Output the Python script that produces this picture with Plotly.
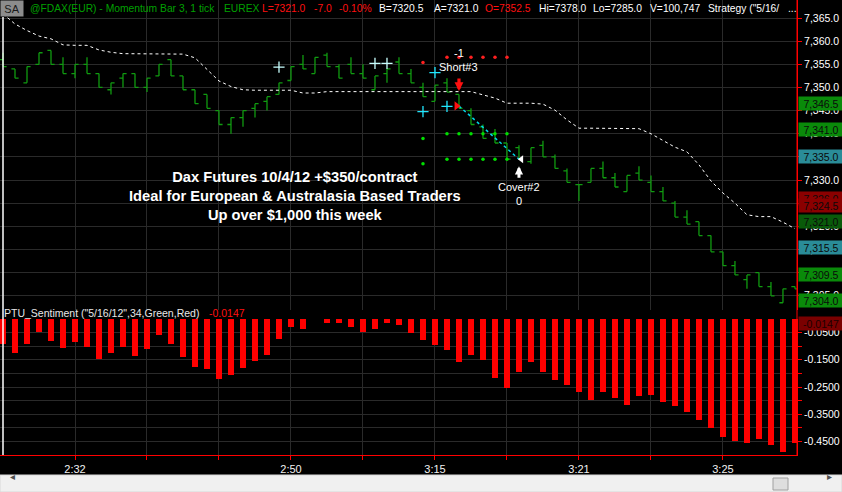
import plotly.graph_objects as go

# ---------------- data ----------------
bar_index = list(range(67))

opens = [7356.0, 7354.0, 7351.0, 7355.0, 7358.0, 7355.0, 7353.0, 7355.0, 7353.0, 7349.5,
         7352.0, 7353.0, 7350.0, 7352.5, 7356.0, 7352.5, 7349.5, 7348.5, 7345.0, 7342.0,
         7343.5, 7345.5, 7347.0, 7348.5, 7351.5, 7355.0, 7353.0, 7357.0, 7354.5, 7355.0,
         7353.0, 7349.5, 7353.0, 7355.5, 7353.0, 7350.0, 7347.0, 7351.0, 7348.5, 7345.0,
         7341.5, 7340.0, 7338.0, 7337.0, 7334.0, 7337.5, 7335.0, 7332.0, 7329.0, 7329.5,
         7332.5, 7330.5, 7327.5, 7331.5, 7329.5, 7327.5, 7325.0, 7322.0, 7321.0, 7318.0,
         7314.5, 7311.5, 7308.5, 7310.0, 7307.0, 7303.5, 7307.0]
highs = [7357.5, 7354.0, 7354.5, 7357.5, 7358.0, 7356.5, 7355.0, 7356.5, 7353.0, 7351.0,
         7353.0, 7353.0, 7352.0, 7355.0, 7356.0, 7352.5, 7349.5, 7348.5, 7345.0, 7343.5,
         7345.0, 7346.5, 7348.0, 7351.0, 7354.5, 7357.0, 7356.5, 7357.5, 7355.0, 7356.5,
         7355.0, 7352.5, 7354.0, 7356.5, 7354.0, 7351.0, 7350.5, 7352.0, 7348.5, 7345.5,
         7342.0, 7341.0, 7338.0, 7337.5, 7337.0, 7338.5, 7335.5, 7332.5, 7329.0, 7332.5,
         7334.0, 7331.5, 7331.0, 7333.0, 7331.0, 7328.5, 7325.5, 7323.5, 7321.0, 7318.0,
         7314.5, 7312.5, 7309.5, 7310.0, 7308.0, 7306.5, 7307.0]
lows = [7354.5, 7352.0, 7351.0, 7355.0, 7355.0, 7353.0, 7352.0, 7353.0, 7350.0, 7348.5,
        7350.0, 7350.0, 7349.0, 7352.5, 7352.5, 7349.5, 7346.5, 7345.5, 7342.0, 7340.0,
        7341.5, 7343.5, 7345.0, 7348.5, 7351.5, 7354.0, 7353.0, 7354.5, 7352.0, 7353.0,
        7352.0, 7349.5, 7351.0, 7353.0, 7351.0, 7348.0, 7347.0, 7349.0, 7345.5, 7342.0,
        7339.0, 7338.0, 7334.5, 7334.5, 7333.5, 7335.0, 7332.5, 7329.5, 7325.5, 7329.5,
        7330.5, 7328.5, 7327.5, 7330.0, 7327.5, 7325.5, 7322.0, 7320.5, 7318.0, 7314.5,
        7311.5, 7309.5, 7306.5, 7307.0, 7305.0, 7303.5, 7306.5]
closes = [7354.5, 7352.0, 7354.5, 7357.5, 7355.0, 7353.0, 7355.0, 7353.0, 7350.0, 7351.0,
          7353.0, 7350.0, 7352.0, 7355.0, 7352.5, 7349.5, 7346.5, 7345.5, 7342.0, 7343.5,
          7345.0, 7346.5, 7348.0, 7351.0, 7354.5, 7354.0, 7356.5, 7354.5, 7352.0, 7353.0,
          7352.0, 7352.5, 7354.0, 7353.0, 7351.0, 7348.0, 7350.5, 7349.0, 7345.5, 7342.0,
          7339.0, 7338.0, 7334.5, 7334.5, 7337.0, 7335.0, 7332.5, 7329.5, 7329.0, 7332.5,
          7330.5, 7328.5, 7331.0, 7330.0, 7327.5, 7325.5, 7322.0, 7320.5, 7318.0, 7314.5,
          7311.5, 7309.5, 7309.5, 7307.0, 7305.0, 7306.5, 7306.5]

stop_line = [7365.9, 7363.7, 7362.3, 7361.1, 7360.5, 7359.2, 7359.1, 7359.1, 7358.1, 7357.6,
             7357.3, 7357.3, 7357.3, 7357.3, 7357.3, 7357.2, 7356.4, 7353.8, 7351.4, 7350.2,
             7349.5, 7349.4, 7349.4, 7349.4, 7349.4, 7348.8, 7348.8, 7349.1, 7349.1, 7349.1,
             7349.1, 7349.1, 7349.1, 7349.1, 7349.1, 7349.1, 7349.1, 7349.1, 7349.1, 7349.1,
             7348.4, 7347.7, 7346.6, 7346.6, 7346.6, 7346.4, 7345.1, 7343.0, 7341.2, 7341.2,
             7341.2, 7341.2, 7341.2, 7341.1, 7340.0, 7338.5, 7337.1, 7336.1, 7333.3, 7329.8,
             7327.2, 7325.0, 7322.5, 7322.1, 7322.1, 7320.9, 7319.5]

sentiment = [-0.093, -0.126, -0.093, -0.047, -0.080, -0.105, -0.083, -0.102, -0.148, -0.126,
             -0.102, -0.135, -0.111, -0.060, -0.093, -0.139, -0.175, -0.183, -0.219, -0.205,
             -0.179, -0.153, -0.131, -0.075, -0.031, -0.036, 0.0, -0.016, -0.014, -0.031,
             -0.047, -0.038, -0.016, -0.021, -0.050, -0.077, -0.096, -0.114, -0.158, -0.132,
             -0.151, -0.217, -0.254, -0.195, -0.158, -0.195, -0.224, -0.243, -0.268, -0.298,
             -0.268, -0.290, -0.316, -0.283, -0.279, -0.305, -0.320, -0.342, -0.371, -0.401,
             -0.434, -0.449, -0.456, -0.441, -0.463, -0.489, -0.456]

time_tick_bars = [6, 12, 18, 24, 30, 36, 42, 48, 54, 60]
time_tick_labels = ["2:32", "", "", "2:50", "", "3:15", "", "3:21", "", "3:25"]

price_ticks = [7305, 7310, 7315, 7320, 7325, 7330, 7335, 7340, 7345, 7350, 7355, 7360, 7365]
sent_ticks = [-0.05, -0.10, -0.15, -0.20, -0.25, -0.30, -0.35, -0.40, -0.45]
sent_tick_labels = ["-0.0500", "", "-0.1500", "", "-0.2500", "", "-0.3500", "", "-0.4500"]

cross_light_bars = [23, 31, 32]
cross_light_prices = [7354.4, 7355.2, 7355.2]
cross_cyan_bars = [36, 35, 37]
cross_cyan_prices = [7353.2, 7344.8, 7345.9]
red_dot_bars = [35, 37, 38, 39, 40, 41, 42]
red_dot_prices = [7355.4, 7356.5, 7356.5, 7356.5, 7356.5, 7356.5, 7356.5]
green_dot_bars = [35, 37, 38, 39, 40, 41, 42, 35, 37, 38, 39, 40, 41, 42]
green_dot_prices = [7339.0, 7340.0, 7340.0, 7340.0, 7340.0, 7340.0, 7340.0,
                    7333.5, 7334.5, 7334.5, 7334.5, 7334.5, 7334.5, 7334.5]

entry_bar, entry_price = 38, 7346.0
exit_bar, exit_price = 43, 7334.5

price_boxes = [7346.5, 7341.0, 7335.0, 7326.0, 7324.5, 7321.0, 7315.5, 7309.5, 7304.0]
price_box_colors = ["#0a8a0a", "#0a8a0a", "#2a8c98", "#8b0000", "#8b0000", "#0a5a0a",
                    "#2a8c98", "#0a8a0a", "#0a8a0a"]
sent_last = -0.0147

# ---------------- style ----------------
FONT = "Arial, Liberation Sans, sans-serif"
GREEN = "#109a10"
GRID = "#2a2a2a"
RED = "#ff0000"
PR, PB = 797.0, 455.0


def px2x(px):
    return px / PR


def py2y(py):
    return (PB - py) / PB


fig = go.Figure()

fig.add_trace(go.Bar(x=bar_index, y=sentiment, width=0.5, xaxis="x", yaxis="y2",
                     marker=dict(color=RED, line=dict(width=0)), hoverinfo="skip"))

fig.add_trace(go.Ohlc(x=bar_index, open=opens, high=highs, low=lows, close=closes,
                      xaxis="x", yaxis="y", tickwidth=0.3, hoverinfo="skip",
                      increasing=dict(line=dict(color=GREEN, width=1.3)),
                      decreasing=dict(line=dict(color=GREEN, width=1.3))))

fig.add_trace(go.Scatter(x=bar_index, y=stop_line, mode="lines", xaxis="x", yaxis="y",
                         line=dict(color="white", width=1, dash="3px,3px"), hoverinfo="skip"))

# trade line
fig.add_trace(go.Scatter(x=[entry_bar, exit_bar], y=[entry_price, exit_price], mode="lines",
                         xaxis="x", yaxis="y", line=dict(color="#00d8e8", width=1.5, dash="dot"),
                         hoverinfo="skip"))

fig.add_trace(go.Scatter(x=cross_light_bars, y=cross_light_prices, mode="markers",
                         marker=dict(symbol="cross-thin", size=8, line=dict(color="#c8ffff", width=1.3)),
                         hoverinfo="skip"))
fig.add_trace(go.Scatter(x=cross_cyan_bars, y=cross_cyan_prices, mode="markers",
                         marker=dict(symbol="cross-thin", size=8, line=dict(color="#20e8ff", width=1.3)),
                         hoverinfo="skip"))
fig.add_trace(go.Scatter(x=red_dot_bars, y=red_dot_prices, mode="markers",
                         marker=dict(symbol="circle", size=3.5, color="#ff2020"), hoverinfo="skip"))
fig.add_trace(go.Scatter(x=green_dot_bars, y=green_dot_prices, mode="markers",
                         marker=dict(symbol="circle", size=3.5, color="#00e000"), hoverinfo="skip"))
fig.add_trace(go.Scatter(x=[entry_bar - 0.2], y=[entry_price], mode="markers",
                         marker=dict(symbol="triangle-right", size=8, color="#ff1010"), hoverinfo="skip"))
fig.add_trace(go.Scatter(x=[exit_bar + 0.2], y=[exit_price], mode="markers",
                         marker=dict(symbol="triangle-left", size=7, color="white"), hoverinfo="skip"))

annotations = []

# header
header = [
    ("@FDAX(EUR) - Momentum Bar 3, 1 tick", 28, "#00a000"),
    ("EUREX", 222, "#00a000"),
    ("L=7321.0", 260, "#ff1010"),
    ("-7.0", 312, "#ff1010"),
    ("-0.10%", 337, "#ff1010"),
    ("B=7320.5", 377, "white"),
    ("A=7321.0", 432, "white"),
    ("O=7352.5", 483, "#ff1010"),
    ("Hi=7378.0", 537, "white"),
    ("Lo=7285.0", 591, "white"),
    ("V=100,747", 648, "white"),
    ('Strategy ("5/16/', 706, "white"),
    ("...", 786, "white"),
]
for txt, px, col in header:
    annotations.append(dict(xref="paper", yref="paper", x=px2x(px), y=py2y(8.5), xanchor="left",
                            yanchor="middle", text=txt, showarrow=False,
                            font=dict(family=FONT, size=10.3, color=col)))
annotations.append(dict(xref="paper", yref="paper", x=0, y=1, xanchor="left", yanchor="top",
                        text="SA", showarrow=False, bgcolor="#8c8c8c", width=22, height=15,
                        borderpad=0, font=dict(family=FONT, size=11, color="#1a1a1a")))

# indicator title
annotations.append(dict(xref="paper", yref="paper", x=px2x(2), y=py2y(313), xanchor="left",
                        yanchor="middle", text='PTU_Sentiment ("5/16/12",34,Green,Red)', showarrow=False,
                        font=dict(family=FONT, size=10.5, color="#e8e8e8")))
annotations.append(dict(xref="paper", yref="paper", x=px2x(207), y=py2y(313), xanchor="left",
                        yanchor="middle", text=f"{sent_last:.4f}", showarrow=False,
                        font=dict(family=FONT, size=10.5, color="#ff1010")))

# big promo text
annotations.append(dict(xref="paper", yref="paper", x=px2x(295), y=py2y(196), xanchor="center",
                        yanchor="middle", showarrow=False, align="center",
                        text="<b>Dax Futures 10/4/12 +$350/contract<br>Ideal for European &amp; Australasia Based Traders<br>Up over $1,000 this week</b>",
                        font=dict(family=FONT, size=14.7, color="white")))

# trade labels and arrows
annotations += [
    dict(x=entry_bar, y=entry_price, xref="x", yref="y", text="", showarrow=True, ax=0, ay=-14,
         yshift=15, arrowhead=2, arrowsize=0.55, arrowwidth=3.2, arrowcolor="#ff1010"),
    dict(x=entry_bar, y=entry_price, xref="x", yref="y", text="Short#3", showarrow=False,
         yshift=39, font=dict(family=FONT, size=11, color="white")),
    dict(x=entry_bar, y=entry_price, xref="x", yref="y", text="-1", showarrow=False,
         yshift=53, font=dict(family=FONT, size=11, color="white")),
    dict(x=exit_bar, y=exit_price, xref="x", yref="y", text="", showarrow=True, ax=0, ay=13,
         yshift=-7, arrowhead=2, arrowsize=0.55, arrowwidth=3, arrowcolor="white"),
    dict(x=exit_bar, y=exit_price, xref="x", yref="y", text="Cover#2", showarrow=False,
         yshift=-28, font=dict(family=FONT, size=11, color="white")),
    dict(x=exit_bar, y=exit_price, xref="x", yref="y", text="0", showarrow=False,
         yshift=-42, font=dict(family=FONT, size=11, color="white")),
]

# price boxes on the right axis
for v, c in zip(price_boxes, price_box_colors):
    annotations.append(dict(xref="paper", yref="y", x=1, y=v, xanchor="left", yanchor="middle",
                            xshift=1, text=f"{v:,.1f}", showarrow=False, bgcolor=c, width=44,
                            height=13, borderpad=0, font=dict(family=FONT, size=10.5, color="#0a0a0a")))
annotations.append(dict(xref="paper", yref="y2", x=1, y=sent_last, xanchor="left", yanchor="middle",
                        xshift=1, text=f"{sent_last:.4f}", showarrow=False, bgcolor="#7a0000", width=44,
                        height=13, borderpad=0, font=dict(family=FONT, size=10.5, color="#1a0000")))

# scrollbar arrows
annotations.append(dict(xref="paper", yref="paper", x=px2x(8), y=py2y(484), text="◂", showarrow=False,
                        font=dict(family="DejaVu Sans", size=10, color="#505050")))
annotations.append(dict(xref="paper", yref="paper", x=px2x(834), y=py2y(484), text="▸", showarrow=False,
                        font=dict(family="DejaVu Sans", size=10, color="#505050")))

shapes = [
    # white session line at first bar
    dict(type="line", xref="x", yref="paper", x0=0, x1=0, y0=0, y1=py2y(17),
         line=dict(color="white", width=1.5)),
    # continuous red price-scale line
    dict(type="line", xref="paper", yref="paper", x0=1, x1=1, y0=0, y1=1,
         line=dict(color=RED, width=1)),
    # scrollbar
    dict(type="rect", xref="paper", yref="paper", x0=0, x1=px2x(842), y0=py2y(492), y1=py2y(475),
         fillcolor="#f0f0f0", line=dict(color="#d8d8d8", width=1)),
    dict(type="rect", xref="paper", yref="paper", x0=px2x(773), x1=px2x(788), y0=py2y(490), y1=py2y(478),
         fillcolor="#dedede", line=dict(color="#a0a0a0", width=1)),
]

fig.update_layout(
    template="none",
    width=842, height=492,
    margin=dict(l=0, r=45, t=0, b=37, pad=0),
    paper_bgcolor="black", plot_bgcolor="black",
    showlegend=False, hovermode=False,
    bargap=0,
    xaxis=dict(range=[-0.25, 66.17], anchor="y2", rangeslider=dict(visible=False),
               tickmode="array", tickvals=time_tick_bars, ticktext=time_tick_labels,
               ticks="outside", ticklen=4, tickcolor=RED, showline=True, linecolor=RED, linewidth=1,
               showgrid=True, gridcolor=GRID, gridwidth=1, zeroline=False, automargin=False,
               tickfont=dict(family=FONT, size=11, color="#f0f0f0")),
    yaxis=dict(domain=[py2y(310), 1], range=[7301.93, 7368.89], side="right", anchor="x",
               tickmode="array", tickvals=price_ticks, tickformat=",.1f",
               ticks="outside", ticklen=4, tickcolor=RED, showline=True, linecolor=RED,
               showgrid=True, gridcolor=GRID, gridwidth=1, zeroline=False, automargin=False,
               tickfont=dict(family=FONT, size=10.5, color="white")),
    yaxis2=dict(domain=[0, py2y(319)], range=[-0.5, 0], side="right", anchor="x",
                tickmode="array", tickvals=sent_ticks, ticktext=sent_tick_labels,
                ticks="outside", ticklen=4, tickcolor=RED, showline=True, linecolor=RED,
                showgrid=True, gridcolor=GRID, gridwidth=1, zeroline=False, automargin=False,
                tickfont=dict(family=FONT, size=10.5, color="white")),
    annotations=annotations,
    shapes=shapes,
)

fig.write_html(
    "out.html",
    config={"displayModeBar": False, "staticPlot": True},
    post_script="document.body.style.margin='0';document.body.style.padding='0';"
                "document.documentElement.style.background='black';document.body.style.overflow='hidden';",
)
